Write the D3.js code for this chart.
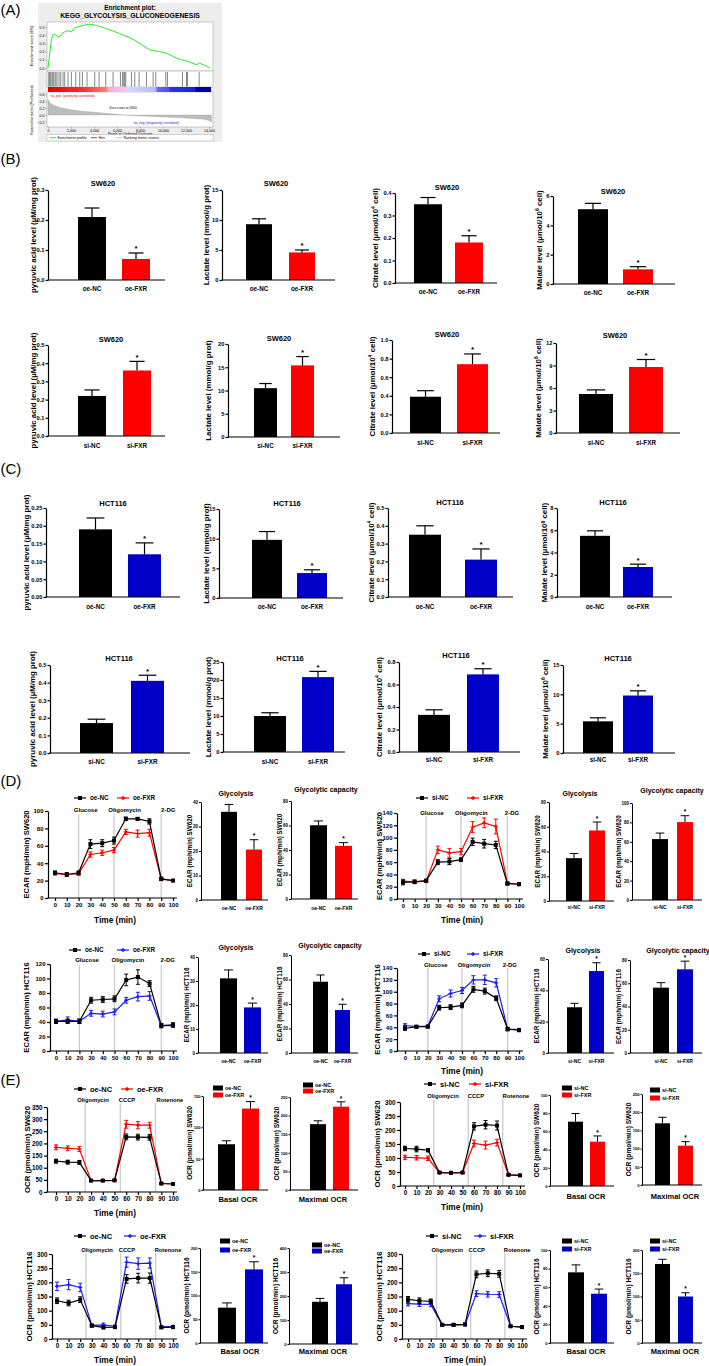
<!DOCTYPE html>
<html><head><meta charset="utf-8">
<script src="https://cdn.jsdelivr.net/npm/d3@7"></script>
<style>
html,body{margin:0;padding:0;background:#fff;}
svg text{font-family:"Liberation Sans",Arial,Helvetica,sans-serif;font-weight:bold;fill:#000;}
</style></head><body>
<script>
// ======================= DATA =======================
const catOe = ["oe-NC", "oe-FXR"];
const catSi = ["si-NC", "si-FXR"];
const significance = ["", "*"];

// Panel B (SW620)
const pyruvicSW620oe = [0.21, 0.07],  pyruvicSW620oeErr = [0.03, 0.02];
const lactateSW620oe = [9.3, 4.6],    lactateSW620oeErr = [0.9, 0.4];
const citrateSW620oe = [0.35, 0.18],  citrateSW620oeErr = [0.03, 0.03];
const malateSW620oe  = [5.1, 1.0],    malateSW620oeErr  = [0.4, 0.18];
const pyruvicSW620si = [0.22, 0.36],  pyruvicSW620siErr = [0.033, 0.05];
const lactateSW620si = [10.5, 15.4],  lactateSW620siErr = [1.0, 1.9];
const citrateSW620si = [0.39, 0.74],  citrateSW620siErr = [0.065, 0.11];
const malateSW620si  = [5.2, 8.8],    malateSW620siErr  = [0.55, 1.0];
// Panel C (HCT116)
const pyruvicHCToe = [0.19, 0.12],  pyruvicHCToeErr = [0.032, 0.032];
const lactateHCToe = [9.8, 4.2],    lactateHCToeErr = [1.4, 0.55];
const citrateHCToe = [0.35, 0.21],  citrateHCToeErr = [0.05, 0.06];
const malateHCToe  = [5.5, 2.7],    malateHCToeErr  = [0.45, 0.25];
const pyruvicHCTsi = [0.17, 0.41],  pyruvicHCTsiErr = [0.022, 0.032];
const lactateHCTsi = [10.0, 20.8],  lactateHCTsiErr = [0.9, 1.6];
const citrateHCTsi = [0.33, 0.69],  citrateHCTsiErr = [0.045, 0.05];
const malateHCTsi  = [5.4, 9.8],    malateHCTsiErr  = [0.6, 0.8];

// Tick label arrays
const ticks0_3 = [0, 0.1, 0.2, 0.3];
const ticks0_4 = [0, 0.1, 0.2, 0.3, 0.4];
const ticks0_5 = [0, 0.1, 0.2, 0.3, 0.4, 0.5];
const ticks0_25 = [0, 0.05, 0.10, 0.15, 0.20, 0.25];
const ticks0_8 = [0, 0.2, 0.4, 0.6, 0.8];
const ticks1_0 = [0, 0.2, 0.4, 0.6, 0.8, 1.0];
const ticks6 = [0, 2, 4, 6];
const ticks8 = [0, 2, 4, 6, 8];
const ticks12 = [0, 3, 6, 9, 12];
const ticks15 = [0, 5, 10, 15];
const ticks20 = [0, 5, 10, 15, 20];
const ticks25 = [0, 5, 10, 15, 20, 25];
const ticks40by10 = [0, 10, 20, 30, 40];
const ticks60by20 = [0, 20, 40, 60];
const ticks80by20 = [0, 20, 40, 60, 80];
const ticks100by20 = [0, 20, 40, 60, 80, 100];
const ticks120by20 = [0, 20, 40, 60, 80, 100, 120];
const ticks140by20 = [0, 20, 40, 60, 80, 100, 120, 140];
const ticks150by50 = [0, 50, 100, 150];
const ticks200by50 = [0, 50, 100, 150, 200];
const ticks250by50 = [0, 50, 100, 150, 200, 250];
const ticks300by50 = [0, 50, 100, 150, 200, 250, 300];
const ticks350by50 = [0, 50, 100, 150, 200, 250, 300, 350];
const ticks400by100 = [0, 100, 200, 300, 400];

// Panel D bars
const glycolysisSW620oe = [36, 20.6],  glycolysisSW620oeErr = [3, 4];
const glycoCapSW620oe   = [60.2, 43.4], glycoCapSW620oeErr  = [3.5, 2.6];
const glycolysisSW620si = [34.6, 57],  glycolysisSW620siErr = [3.8, 6.8];
const glycoCapSW620si   = [62.8, 80.3], glycoCapSW620siErr  = [6.2, 6.6];
const glycolysisHCToe   = [31.1, 19],  glycolysisHCToeErr   = [3.5, 1.8];
const glycoCapHCToe     = [58.2, 35.1], glycoCapHCToeErr    = [5.5, 4.7];
const glycolysisHCTsi   = [29.2, 52.3], glycolysisHCTsiErr  = [2.5, 5.3];
const glycoCapHCTsi     = [56.2, 72],  glycoCapHCTsiErr     = [4.3, 7];

// Panel D/E time courses
const timePoints = [0, 10, 20, 30, 40, 50, 60, 70, 80, 90, 100];
const ecarInjections = [20, 50, 90];
const ecarInjectionLabels = ["Glucose", "Oligomycin", "2-DG"];
const ocrInjections = [25, 55, 85];
const ocrInjectionLabels = ["Oligomycin", "CCCP", "Rotenone"];

const ecarSW620oeNC  = [29, 27, 29, 62, 63, 66, 91, 91, 88, 22, 20];
const ecarSW620oeNCErr  = [2, 2, 2, 5, 4, 4, 2, 1.5, 3, 2, 1];
const ecarSW620oeFXR = [28, 27, 28, 50, 52, 55, 76, 74, 75, 22, 20];
const ecarSW620oeFXRErr = [1.5, 2, 2, 3, 3, 3, 3, 4, 4, 1.5, 1];
const ecarSW620siNC  = [27, 28, 30, 60, 61, 64, 93, 90, 88, 25, 24];
const ecarSW620siNCErr  = [4, 3, 2, 4, 5, 3, 6, 7, 6, 2, 2];
const ecarSW620siFXR = [29, 28, 29, 80, 75, 77, 117, 124, 118, 26, 24];
const ecarSW620siFXRErr = [3, 2, 2, 6, 7, 5, 9, 8, 12, 2, 2];
const ecarHCToeNC  = [41, 41, 41, 70, 71, 72, 98, 102, 93, 35, 36];
const ecarHCToeNCErr  = [3, 3, 3, 4, 4, 4, 8, 10, 4, 3, 3];
const ecarHCToeFXR = [41, 43, 41, 52, 51, 54, 70, 75, 76, 35, 35];
const ecarHCToeFXRErr = [2, 4, 3, 4, 4, 4, 4, 6, 6, 2, 2];
const ecarHCTsiNC  = [38, 41, 41, 73, 74, 77, 104, 101, 89, 37, 35];
const ecarHCTsiNCErr  = [3, 2, 2, 4, 4, 4, 5, 5, 4, 3, 2];
const ecarHCTsiFXR = [43, 41, 42, 88, 97, 102, 120, 120, 115, 37, 36];
const ecarHCTsiFXRErr = [3, 2, 2, 5, 6, 5, 7, 8, 7, 2, 2];

const ocrSW620oeNC  = [127, 123, 122, 47, 47, 48, 227, 226, 225, 35, 33];
const ocrSW620oeNCErr  = [8, 8, 8, 3, 3, 3, 12, 12, 12, 3, 3];
const ocrSW620oeFXR = [184, 180, 177, 47, 47, 48, 279, 275, 275, 35, 33];
const ocrSW620oeFXRErr = [10, 10, 10, 3, 3, 3, 16, 15, 12, 3, 3];
const ocrSW620siNC  = [134, 132, 128, 48, 47, 48, 213, 219, 216, 40, 38];
const ocrSW620siNCErr  = [8, 10, 6, 3, 3, 3, 13, 15, 16, 3, 3];
const ocrSW620siFXR = [102, 101, 99, 48, 47, 48, 152, 146, 155, 40, 38];
const ocrSW620siFXRErr = [8, 8, 8, 3, 3, 3, 12, 14, 12, 3, 3];
const ocrHCToeNC  = [135, 127, 139, 47, 41, 42, 212, 215, 215, 41, 42];
const ocrHCToeNCErr  = [10, 10, 10, 5, 5, 4, 15, 17, 18, 3, 3];
const ocrHCToeFXR = [186, 192, 182, 48, 50, 45, 271, 266, 268, 43, 44];
const ocrHCToeFXRErr = [15, 18, 15, 4, 6, 4, 18, 20, 18, 3, 3];
const ocrHCTsiNC  = [140, 135, 133, 50, 50, 52, 228, 232, 230, 45, 42];
const ocrHCTsiNCErr  = [10, 10, 8, 4, 4, 4, 12, 12, 12, 3, 3];
const ocrHCTsiFXR = [125, 123, 122, 50, 50, 50, 160, 158, 157, 45, 42];
const ocrHCTsiFXRErr = [8, 8, 8, 4, 4, 4, 10, 10, 10, 3, 3];

// Panel E bars
const basalSW620oe   = [73, 130],  basalSW620oeErr   = [5.5, 11];
const maximalSW620oe = [177, 224], maximalSW620oeErr = [9, 13];
const basalSW620si   = [70.7, 48.7], basalSW620siErr = [9, 6.3];
const maximalSW620si = [169.5, 108], maximalSW620siErr = [16.5, 11];
const basalHCToe     = [74.4, 155], basalHCToeErr    = [10, 16];
const maximalHCToe   = [176, 249],  maximalHCToeErr  = [14, 27];
const basalHCTsi     = [76, 53],    basalHCTsiErr    = [8, 5];
const maximalHCTsi   = [170, 100],  maximalHCTsiErr  = [10, 8];

// Panel A (GSEA)
const gseaRank = [0, 150, 290, 435, 580, 960, 1200, 1450, 1740, 2030, 2320, 3040, 3630, 4200, 5080, 6230, 7390, 8840, 9710, 10290, 11160, 11600, 12170, 12900, 13190, 13620, 14110];
const gseaES   = [0, 0.18, 0.34, 0.41, 0.41, 0.375, 0.42, 0.44, 0.455, 0.44, 0.49, 0.52, 0.535, 0.52, 0.48, 0.42, 0.35, 0.22, 0.20, 0.18, 0.12, 0.10, 0.08, 0.04, 0.06, 0.03, 0];
const gseaHits = [60, 148, 235, 350, 437, 525, 670, 785, 960, 1105, 1307, 1452, 1742, 2032, 2409, 2757, 2989, 3394, 4061, 4438, 5018, 5655, 6293, 6467, 6583, 6670, 6757, 7250, 7540, 7916, 8554, 9134, 9366, 10235, 10380, 11685, 12032, 12119, 13133];
const metricRank  = [0, 200, 500, 1000, 2000, 3000, 4000, 5000, 6000, 6560, 8000, 10000, 12000, 13500, 14000, 14200];
const metricValue = [0.45, 0.34, 0.28, 0.22, 0.15, 0.11, 0.08, 0.05, 0.02, 0, -0.03, -0.06, -0.09, -0.12, -0.16, -0.22];
const gseaRankTicks = [0, 2000, 4000, 6000, 8000, 10000, 12000, 14000];
const esTicks = [0, 0.1, 0.2, 0.3, 0.4, 0.5];
const metricTicks = [-0.2, 0, 0.2, 0.4, 0.6];

// ======================= DRAWING =======================
const RED = "#ff0000", BLUE = "#0000c8", LBLUE = "#1c1cf0", BLACK = "#000";
const svg = d3.select("body").append("svg").attr("width", 709).attr("height", 1366).style("display", "block");

function label(g, x, y, s, size, anchor = "middle", rot = 0) {
  const t = g.append("text").attr("font-size", size).attr("text-anchor", anchor).attr("dy", "0.35em");
  if (rot) t.attr("transform", `translate(${x},${y}) rotate(${rot})`);
  else t.attr("x", x).attr("y", y);
  const parts = s.split(/\^(\w)/);
  if (parts.length === 1) { t.text(s); return t; }
  parts.forEach((p, i) => {
    if (i % 2 === 0) { const ts = t.append("tspan").text(p); if (i > 0) ts.attr("dy", "0.3em"); }
    else t.append("tspan").attr("font-size", size * 0.65).attr("dy", "-0.45em").text(p);
  });
  return t;
}

function barChart(c) {
  const g = svg.append("g");
  const y = d3.scaleLinear().domain([0, c.max]).range([c.yBot, c.yTop]);
  const x = d3.scaleBand().domain(c.cats).range([c.b0, c.b0 + 2 * c.bw + c.gap])
    .paddingInner(c.gap / (c.bw + c.gap)).paddingOuter(0);
  const bw = x.bandwidth();
  const aw = c.aw || 1.2;
  g.selectAll("rect.bar").data(c.cats).join("rect").attr("class", "bar")
    .attr("x", d => x(d)).attr("y", (d, i) => y(c.vals[i]))
    .attr("width", bw).attr("height", (d, i) => y(0) - y(c.vals[i]))
    .attr("fill", (d, i) => c.colors[i]);
  c.cats.forEach((d, i) => {
    const cx = x(d) + bw / 2, top = y(c.vals[i] + c.errs[i]);
    g.append("line").attr("x1", cx).attr("x2", cx).attr("y1", y(c.vals[i])).attr("y2", top)
      .attr("stroke", BLACK).attr("stroke-width", aw);
    g.append("line").attr("x1", cx - bw * 0.27).attr("x2", cx + bw * 0.27).attr("y1", top).attr("y2", top)
      .attr("stroke", BLACK).attr("stroke-width", aw);
    if (significance[i]) label(g, cx, top - c.starSize * 0.55, significance[i], c.starSize);
    if (c.catY) label(g, cx, c.catY, d, c.catSize);
  });
  const ya = g.append("g").attr("transform", `translate(${c.ax},0)`)
    .call(d3.axisLeft(y).tickValues(c.ticks).tickFormat(d3.format(c.fmt)).tickSize(c.tl).tickSizeOuter(0).tickPadding(c.tp));
  ya.attr("font-size", c.tickSize);
  ya.selectAll("path,line").attr("stroke-width", aw);
  g.append("line").attr("x1", c.ax - aw / 2).attr("x2", c.axEnd).attr("y1", y(0)).attr("y2", y(0))
    .attr("stroke", BLACK).attr("stroke-width", aw);
  if (c.title) label(g, c.tx, c.ty, c.title, c.titleSize);
  label(g, c.ylx, (c.yTop + c.yBot) / 2, c.ylabel, c.ylSize, "middle", -90);
  if (c.xlabel) label(g, c.xlx, c.xly, c.xlabel, c.xlSize);
  if (c.legend) {
    c.cats.forEach((d, i) => {
      g.append("rect").attr("x", c.legend.x).attr("y", c.legend.y[i] - 2.5).attr("width", 10).attr("height", 5).attr("fill", c.colors[i]);
      label(g, c.legend.x + 12, c.legend.y[i], d, c.legend.size, "start");
    });
  }
}

function lineChart(c) {
  const g = svg.append("g");
  const x = d3.scaleLinear().domain([0, 100]).range([c.x0, c.x1]);
  const y = d3.scaleLinear().domain([0, c.max]).range([c.yBot, c.yTop]);
  c.inj.forEach((t, i) => {
    g.append("line").attr("x1", x(t)).attr("x2", x(t)).attr("y1", c.injTop).attr("y2", c.yBot)
      .attr("stroke", "#cfcfcf").attr("stroke-width", 1.4);
    label(g, x(c.injLabelT[i]), c.injLabelY, c.injLabels[i], c.injSize);
  });
  const ya = g.append("g").attr("transform", `translate(${c.ax},0)`)
    .call(d3.axisLeft(y).tickValues(c.ticks).tickSize(3).tickSizeOuter(0).tickPadding(1.5));
  ya.attr("font-size", c.tickSize);
  ya.selectAll("path,line").attr("stroke-width", 1.2);
  const xa = g.append("g").attr("transform", `translate(0,${c.yBot})`)
    .call(d3.axisBottom(x).tickValues(timePoints).tickSize(3).tickSizeOuter(0).tickPadding(2));
  xa.attr("font-size", c.tickSize);
  xa.select(".domain").remove();
  xa.selectAll("line").attr("stroke-width", 1.2);
  g.append("line").attr("x1", c.ax - 0.6).attr("x2", c.axEnd).attr("y1", c.yBot).attr("y2", c.yBot)
    .attr("stroke", BLACK).attr("stroke-width", 1.2);
  const ln = d3.line().x((d, i) => x(timePoints[i])).y(d => y(d));
  c.series.forEach(s => {
    g.append("path").datum(s.vals).attr("d", ln).attr("fill", "none").attr("stroke", s.color).attr("stroke-width", 1.2);
    s.vals.forEach((v, i) => {
      const px = x(timePoints[i]);
      const e = s.errs[i];
      g.append("line").attr("x1", px).attr("x2", px).attr("y1", y(v - e)).attr("y2", y(v + e)).attr("stroke", s.color).attr("stroke-width", 1);
      [v - e, v + e].forEach(w => g.append("line").attr("x1", px - 2).attr("x2", px + 2).attr("y1", y(w)).attr("y2", y(w)).attr("stroke", s.color).attr("stroke-width", 1));
      if (s.marker === "square") g.append("rect").attr("x", px - 2).attr("y", y(v) - 2).attr("width", 4).attr("height", 4).attr("fill", s.color);
      else g.append("path").attr("transform", `translate(${px},${y(v)})`).attr("d", d3.symbol(d3.symbolCross, 9)()).attr("fill", s.color);
    });
  });
  c.legend.items.forEach((it) => {
    const s = c.series[it.s];
    g.append("line").attr("x1", it.x - 6).attr("x2", it.x + 6).attr("y1", c.legend.y).attr("y2", c.legend.y).attr("stroke", s.color).attr("stroke-width", 1.2);
    if (s.marker === "square") g.append("rect").attr("x", it.x - 2).attr("y", c.legend.y - 2).attr("width", 4).attr("height", 4).attr("fill", s.color);
    else g.append("path").attr("transform", `translate(${it.x},${c.legend.y})`).attr("d", d3.symbol(d3.symbolCross, 9)()).attr("fill", s.color);
    label(g, it.x + 10, c.legend.y, it.label, c.legend.size, "start");
  });
  label(g, c.ylx, (c.yTop + c.yBot) / 2, c.ylabel, c.ylSize, "middle", -90);
  if (c.xlabel) label(g, c.xlx, c.xly, c.xlabel, c.xlSize);
}

// ---------------- Panel A: GSEA ----------------
function drawGSEA() {
  const g = svg.append("g");
  g.append("rect").attr("x", 38).attr("y", 3).attr("width", 184).attr("height", 139).attr("fill", "#ededed");
  label(g, 130, 7.5, "Enrichment plot:", 6.5);
  label(g, 130, 16, "KEGG_GLYCOLYSIS_GLUCONEOGENESIS", 6.8);
  const gx = d3.scaleLinear().domain([0, 14250]).range([48, 212]);
  const esY = d3.scaleLinear().domain([0, 0.5]).range([68, 27]);
  const mY = d3.scaleLinear().domain([0, 0.6]).range([115, 94.3]);
  [[22, 49], [71, 16], [92, 35]].forEach(([yy, hh]) => g.append("rect").attr("x", 47).attr("y", yy).attr("width", 166).attr("height", hh).attr("fill", "#fff").attr("stroke", "#9a9a9a").attr("stroke-width", 0.5));
  const ea = g.append("g").attr("transform", "translate(47,0)").call(d3.axisLeft(esY).tickValues(esTicks).tickFormat(d3.format(".1f")).tickSize(1.5).tickPadding(1));
  ea.attr("font-size", 3.6); ea.select(".domain").remove(); ea.selectAll("line").attr("stroke", "#666").attr("stroke-width", 0.4);
  ea.selectAll("text").style("font-weight", "normal");
  g.append("path").datum(gseaES).attr("d", d3.line().x((d, i) => gx(gseaRank[i])).y(d => esY(d)))
    .attr("fill", "none").attr("stroke", "#22ee22").attr("stroke-width", 1);
  g.selectAll("line.hit").data(gseaHits).join("line").attr("x1", d => gx(d)).attr("x2", d => gx(d))
    .attr("y1", 72).attr("y2", 86.5).attr("stroke", "#222").attr("stroke-width", 0.55);
  const grad = svg.append("defs").append("linearGradient").attr("id", "rb");
  [[0, "#e80000"], [0.22, "#ff3030"], [0.36, "#ff8080"], [0.37, "#ffa8d8"], [0.48, "#ffc8e8"], [0.49, "#d8d8ff"],
   [0.66, "#b8b8ff"], [0.67, "#6868ff"], [0.74, "#5050f0"], [0.75, "#3030e8"], [0.9, "#2020d8"], [0.91, "#0000a8"], [1, "#000098"]]
    .forEach(([o, col]) => grad.append("stop").attr("offset", o).attr("stop-color", col));
  g.append("rect").attr("x", 48).attr("y", 87).attr("width", 163).attr("height", 5).attr("fill", "url(#rb)");
  g.append("path").datum(metricValue).attr("d", d3.area().x((d, i) => gx(metricRank[i])).y0(mY(0)).y1(d => mY(d)))
    .attr("fill", "#bdbdbd").attr("stroke", "#9a9a9a").attr("stroke-width", 0.3);
  const ma = g.append("g").attr("transform", "translate(47,0)").call(d3.axisLeft(mY).tickValues(metricTicks).tickFormat(d3.format(".1f")).tickSize(1.5).tickPadding(1));
  ma.attr("font-size", 3.6); ma.select(".domain").remove(); ma.selectAll("line").attr("stroke", "#666").attr("stroke-width", 0.4);
  ma.selectAll("text").style("font-weight", "normal");
  const xa = g.append("g").attr("transform", "translate(0,127)").call(d3.axisBottom(gx).tickValues(gseaRankTicks).tickFormat(d3.format(",")).tickSize(1.5).tickPadding(1));
  xa.attr("font-size", 3.6); xa.select(".domain").remove(); xa.selectAll("line").attr("stroke", "#666").attr("stroke-width", 0.4);
  xa.selectAll("text").style("font-weight", "normal");
  label(g, 32, 46, "Enrichment score (ES)", 4, "middle", -90).style("font-weight", "normal");
  label(g, 32, 110, "Ranked list metric (PreRanked)", 3.6, "middle", -90).style("font-weight", "normal");
  label(g, 130, 133.5, "Rank in Ordered Dataset", 4).style("font-weight", "normal");
  label(g, 50, 95.5, "'na_pos' (positively correlated)", 3.3, "start").style("font-weight", "normal").style("fill", "#e00000");
  label(g, 123, 108, "Zero cross at 6560", 3.3).style("font-weight", "normal");
  label(g, 133, 123, "'na_neg' (negatively correlated)", 3.3, "start").style("font-weight", "normal").style("fill", "#2020e0");
  g.append("rect").attr("x", 47).attr("y", 134.5).attr("width", 166).attr("height", 6.5).attr("fill", "#fff").attr("stroke", "#9a9a9a").attr("stroke-width", 0.4);
  g.append("line").attr("x1", 50).attr("x2", 56).attr("y1", 137.7).attr("y2", 137.7).attr("stroke", "#22ee22").attr("stroke-width", 1);
  label(g, 57.5, 137.7, "Enrichment profile", 3.6, "start").style("font-weight", "normal");
  g.append("line").attr("x1", 91).attr("x2", 97).attr("y1", 137.7).attr("y2", 137.7).attr("stroke", "#222").attr("stroke-width", 0.7);
  label(g, 98.5, 137.7, "Hits", 3.6, "start").style("font-weight", "normal");
  g.append("line").attr("x1", 116).attr("x2", 122).attr("y1", 137.7).attr("y2", 137.7).attr("stroke", "#aaa").attr("stroke-width", 0.7);
  label(g, 123.5, 137.7, "Ranking metric scores", 3.6, "start").style("font-weight", "normal");
}
drawGSEA();

// ---------------- Panel labels ----------------
[["(A)", 9.5], ["(B)", 158.5], ["(C)", 469], ["(D)", 781], ["(E)", 1080]].forEach(([s, yy]) =>
  label(svg, 0.5, yy, s, 15, "start").style("font-weight", "normal"));

// ---------------- Panels B & C ----------------
const ylPyr = "pyruvic acid level (\u00b5M/mg prot)";
const ylLac = "Lactate level (mmol/g prot)";
const ylCit = "Citrate level (\u00b5mol/10^4 cell)";
const ylMal = "Malate level (\u00b5mol/10^6 cell)";
const colR = [BLACK, RED], colB = [BLACK, BLUE];
const bc = { tickSize: 5.8, catSize: 6.3, titleSize: 7.5, ylSize: 7.9, starSize: 8, tl: 2.5, tp: 1, aw: 1.2 };
const bcCharts = [
  // B row 1
  { ax: 48, axEnd: 165, yTop: 190, yBot: 280, max: 0.3, ticks: ticks0_3, fmt: ".1f", b0: 78, bw: 28, gap: 16, cats: catOe, vals: pyruvicSW620oe, errs: pyruvicSW620oeErr, colors: colR, title: "SW620", tx: 103, ty: 183, ylabel: ylPyr, ylx: 33, catY: 289 },
  { ax: 222, axEnd: 335, yTop: 190, yBot: 280, max: 15, ticks: ticks15, fmt: "d", b0: 246, bw: 26, gap: 17, cats: catOe, vals: lactateSW620oe, errs: lactateSW620oeErr, colors: colR, title: "SW620", tx: 276, ty: 183, ylabel: ylLac, ylx: 206.5, catY: 289 },
  { ax: 395, axEnd: 497, yTop: 193, yBot: 283, max: 0.4, ticks: ticks0_4, fmt: ".1f", b0: 414, bw: 28, gap: 13, cats: catOe, vals: citrateSW620oe, errs: citrateSW620oeErr, colors: colR, title: "SW620", tx: 447, ty: 187, ylabel: ylCit, ylx: 375, catY: 292 },
  { ax: 553, axEnd: 675, yTop: 196, yBot: 284, max: 6, ticks: ticks6, fmt: "d", b0: 578, bw: 30, gap: 15, cats: catOe, vals: malateSW620oe, errs: malateSW620oeErr, colors: colR, title: "SW620", tx: 613, ty: 191, ylabel: ylMal, ylx: 539, catY: 293 },
  // B row 2
  { ax: 48, axEnd: 165, yTop: 345, yBot: 436, max: 0.5, ticks: ticks0_5, fmt: ".1f", b0: 78, bw: 28, gap: 17, cats: catSi, vals: pyruvicSW620si, errs: pyruvicSW620siErr, colors: colR, title: "SW620", tx: 111, ty: 339, ylabel: ylPyr, ylx: 33, catY: 446 },
  { ax: 228, axEnd: 340, yTop: 344, yBot: 437, max: 20, ticks: ticks20, fmt: "d", b0: 254, bw: 23, gap: 14, cats: catSi, vals: lactateSW620si, errs: lactateSW620siErr, colors: colR, title: "SW620", tx: 279, ty: 338, ylabel: ylLac, ylx: 208.5, catY: 446 },
  { ax: 392, axEnd: 500, yTop: 340, yBot: 433, max: 1.0, ticks: ticks1_0, fmt: ".1f", b0: 410, bw: 31, gap: 16, cats: catSi, vals: citrateSW620si, errs: citrateSW620siErr, colors: colR, title: "SW620", tx: 447, ty: 334, ylabel: ylCit, ylx: 372, catY: 443 },
  { ax: 556, axEnd: 680, yTop: 343, yBot: 433, max: 12, ticks: ticks12, fmt: "d", b0: 579, bw: 34, gap: 16, cats: catSi, vals: malateSW620si, errs: malateSW620siErr, colors: colR, title: "SW620", tx: 615, ty: 335, ylabel: ylMal, ylx: 538, catY: 443 },
  // C row 1
  { ax: 46, axEnd: 180, yTop: 508, yBot: 597, max: 0.25, ticks: ticks0_25, fmt: ".2f", b0: 79, bw: 33, gap: 16, cats: catOe, vals: pyruvicHCToe, errs: pyruvicHCToeErr, colors: colB, title: "HCT116", tx: 113, ty: 503, ylabel: ylPyr, ylx: 26, catY: 607 },
  { ax: 219, axEnd: 343, yTop: 509, yBot: 598, max: 15, ticks: ticks15, fmt: "d", b0: 252, bw: 30, gap: 15, cats: catOe, vals: lactateHCToe, errs: lactateHCToeErr, colors: colB, title: "HCT116", tx: 287, ty: 503, ylabel: ylLac, ylx: 206, catY: 607 },
  { ax: 388, axEnd: 513, yTop: 508, yBot: 597, max: 0.5, ticks: ticks0_5, fmt: ".1f", b0: 409, bw: 32, gap: 24, cats: catOe, vals: citrateHCToe, errs: citrateHCToeErr, colors: colB, title: "HCT116", tx: 450, ty: 502, ylabel: ylCit, ylx: 371, catY: 607 },
  { ax: 557, axEnd: 672, yTop: 508, yBot: 597, max: 8, ticks: ticks8, fmt: "d", b0: 580, bw: 30, gap: 13, cats: catOe, vals: malateHCToe, errs: malateHCToeErr, colors: colB, title: "HCT116", tx: 613, ty: 502, ylabel: ylMal, ylx: 544.5, catY: 607 },
  // C row 2
  { ax: 50, axEnd: 190, yTop: 665, yBot: 753, max: 0.5, ticks: ticks0_5, fmt: ".1f", b0: 80, bw: 33, gap: 18, cats: catSi, vals: pyruvicHCTsi, errs: pyruvicHCTsiErr, colors: colB, title: "HCT116", tx: 119, ty: 658, ylabel: ylPyr, ylx: 32, catY: 762 },
  { ax: 223, axEnd: 345, yTop: 662, yBot: 752, max: 25, ticks: ticks25, fmt: "d", b0: 254, bw: 32, gap: 16, cats: catSi, vals: lactateHCTsi, errs: lactateHCTsiErr, colors: colB, title: "HCT116", tx: 290, ty: 658, ylabel: ylLac, ylx: 208, catY: 762 },
  { ax: 399, axEnd: 520, yTop: 662, yBot: 752, max: 0.8, ticks: ticks0_8, fmt: ".1f", b0: 418, bw: 32, gap: 17, cats: catSi, vals: citrateHCTsi, errs: citrateHCTsiErr, colors: colB, title: "HCT116", tx: 456, ty: 655, ylabel: ylCit, ylx: 379, catY: 760 },
  { ax: 563, axEnd: 675, yTop: 665, yBot: 753, max: 15, ticks: ticks15, fmt: "d", b0: 583, bw: 30, gap: 10, cats: catSi, vals: malateHCTsi, errs: malateHCTsiErr, colors: colB, title: "HCT116", tx: 618, ty: 658, ylabel: ylMal, ylx: 545, catY: 760 }
];
bcCharts.forEach(c => barChart(Object.assign({}, bc, c)));

// ---------------- Panel D ----------------
const dbar = { tickSize: 4.5, catSize: 5, titleSize: 7, ylSize: 6.3, starSize: 6.5, tl: 2, tp: 1, aw: 1 };
const ylE1 = "ECAR (mph/min) SW620", ylE2 = "ECAR (mph/min) HCT116";
const dBars = [
  { ax: 201, axEnd: 268, yTop: 802, yBot: 900, max: 40, ticks: ticks40by10, fmt: "d", b0: 221, bw: 16, gap: 9, cats: catOe, vals: glycolysisSW620oe, errs: glycolysisSW620oeErr, colors: colR, title: "Glycolysis", tx: 236, ty: 794, ylabel: ylE1, ylx: 189.5, catY: 908 },
  { ax: 291, axEnd: 358, yTop: 801, yBot: 899, max: 80, ticks: ticks80by20, fmt: "d", b0: 310, bw: 17, gap: 8, cats: catOe, vals: glycoCapSW620oe, errs: glycoCapSW620oeErr, colors: colR, title: "Glycolytic capacity", tx: 326, ty: 790, ylabel: ylE1, ylx: 279.5, catY: 908 },
  { ax: 549, axEnd: 614, yTop: 802, yBot: 901, max: 80, ticks: ticks80by20, fmt: "d", b0: 566, bw: 16, gap: 7, cats: catSi, vals: glycolysisSW620si, errs: glycolysisSW620siErr, colors: colR, title: "Glycolysis", tx: 580, ty: 794, ylabel: ylE1, ylx: 537.5, catY: 907 },
  { ax: 632, axEnd: 702, yTop: 803, yBot: 900, max: 100, ticks: ticks100by20, fmt: "d", b0: 652, bw: 16, gap: 9, cats: catSi, vals: glycoCapSW620si, errs: glycoCapSW620siErr, colors: colR, title: "Glycolytic capacity", tx: 672, ty: 791, ylabel: ylE1, ylx: 618.5, catY: 907 },
  { ax: 198, axEnd: 268, yTop: 957, yBot: 1053, max: 40, ticks: ticks40by10, fmt: "d", b0: 220, bw: 17, gap: 7, cats: catOe, vals: glycolysisHCToe, errs: glycolysisHCToeErr, colors: colB, title: "Glycolysis", tx: 236, ty: 948, ylabel: ylE2, ylx: 186.5, catY: 1061 },
  { ax: 291, axEnd: 358, yTop: 955, yBot: 1053, max: 80, ticks: ticks80by20, fmt: "d", b0: 313, bw: 15, gap: 7, cats: catOe, vals: glycoCapHCToe, errs: glycoCapHCToeErr, colors: colB, title: "Glycolytic capacity", tx: 330, ty: 946, ylabel: ylE2, ylx: 279.5, catY: 1061 },
  { ax: 548, axEnd: 614, yTop: 959, yBot: 1053, max: 60, ticks: ticks60by20, fmt: "d", b0: 567, bw: 15, gap: 7, cats: catSi, vals: glycolysisHCTsi, errs: glycolysisHCTsiErr, colors: colB, title: "Glycolysis", tx: 583, ty: 951, ylabel: ylE2, ylx: 536.5, catY: 1061 },
  { ax: 630, axEnd: 702, yTop: 960, yBot: 1053, max: 80, ticks: ticks80by20, fmt: "d", b0: 653, bw: 16, gap: 8, cats: catSi, vals: glycoCapHCTsi, errs: glycoCapHCTsiErr, colors: colB, title: "Glycolytic capacity", tx: 678, ty: 951, ylabel: ylE2, ylx: 618.5, catY: 1061 }
];
dBars.forEach(c => barChart(Object.assign({}, dbar, c)));

const dl = { tickSize: 6, injSize: 6, ylSize: 7.6, xlSize: 8.3 };
const dLines = [
  { ax: 48, axEnd: 177, x0: 55, x1: 173, yTop: 811, yBot: 898, max: 100, ticks: ticks100by20, inj: ecarInjections, injLabels: ecarInjectionLabels, injLabelT: [26, 59, 96], injLabelY: 810, injTop: 814,
    series: [{ vals: ecarSW620oeFXR, errs: ecarSW620oeFXRErr, color: RED, marker: "cross" }, { vals: ecarSW620oeNC, errs: ecarSW620oeNCErr, color: BLACK, marker: "square" }],
    legend: { y: 798, size: 6.3, items: [{ x: 80, s: 1, label: catOe[0] }, { x: 123, s: 0, label: catOe[1] }] },
    ylabel: "ECAR (mpH/min) SW620", ylx: 26.5, xlabel: "Time (min)", xlx: 115, xly: 920 },
  { ax: 397, axEnd: 523, x0: 403, x1: 519, yTop: 813, yBot: 899, max: 140, ticks: ticks140by20, inj: ecarInjections, injLabels: ecarInjectionLabels, injLabelT: [25, 59, 94], injLabelY: 813, injTop: 816,
    series: [{ vals: ecarSW620siFXR, errs: ecarSW620siFXRErr, color: RED, marker: "cross" }, { vals: ecarSW620siNC, errs: ecarSW620siNCErr, color: BLACK, marker: "square" }],
    legend: { y: 798, size: 6.3, items: [{ x: 422, s: 1, label: catSi[0] }, { x: 473, s: 0, label: catSi[1] }] },
    ylabel: "ECAR (mpH/min) SW620", ylx: 379.5, xlabel: "Time (min)", xlx: 462, xly: 920 },
  { ax: 50, axEnd: 177, x0: 56, x1: 173, yTop: 964, yBot: 1051, max: 120, ticks: ticks120by20, inj: ecarInjections, injLabels: ecarInjectionLabels, injLabelT: [26.5, 61.5, 95.5], injLabelY: 960, injTop: 965,
    series: [{ vals: ecarHCToeFXR, errs: ecarHCToeFXRErr, color: LBLUE, marker: "cross" }, { vals: ecarHCToeNC, errs: ecarHCToeNCErr, color: BLACK, marker: "square" }],
    legend: { y: 950, size: 6.3, items: [{ x: 75, s: 1, label: catOe[0] }, { x: 123, s: 0, label: catOe[1] }] },
    ylabel: "ECAR (mph/min) HCT116", ylx: 26.5 },
  { ax: 397, axEnd: 523, x0: 405, x1: 519, yTop: 968, yBot: 1051, max: 140, ticks: ticks140by20, inj: ecarInjections, injLabels: ecarInjectionLabels, injLabelT: [27, 60.5, 92], injLabelY: 965, injTop: 968,
    series: [{ vals: ecarHCTsiFXR, errs: ecarHCTsiFXRErr, color: LBLUE, marker: "cross" }, { vals: ecarHCTsiNC, errs: ecarHCTsiNCErr, color: BLACK, marker: "square" }],
    legend: { y: 954, size: 6.3, items: [{ x: 424, s: 1, label: catSi[0] }, { x: 473, s: 0, label: catSi[1] }] },
    ylabel: "ECAR (mph/min) HCT116", ylx: 377, xlabel: "Time (min)", xlx: 462, xly: 1071 }
];
dLines.forEach(c => lineChart(Object.assign({}, dl, c)));

// ---------------- Panel E ----------------
const el = { tickSize: 6.3, injSize: 5.8, ylSize: 7.8, xlSize: 8.3 };
const eLines = [
  { ax: 47, axEnd: 177, x0: 56, x1: 173, yTop: 1107, yBot: 1192, max: 350, ticks: ticks350by50, inj: ocrInjections, injLabels: ocrInjectionLabels, injLabelT: [31.6, 60.7, 97.4], injLabelY: 1100, injTop: 1103,
    series: [{ vals: ocrSW620oeFXR, errs: ocrSW620oeFXRErr, color: RED, marker: "cross" }, { vals: ocrSW620oeNC, errs: ocrSW620oeNCErr, color: BLACK, marker: "square" }],
    legend: { y: 1089, size: 7.5, items: [{ x: 80, s: 1, label: catOe[0] }, { x: 127, s: 0, label: catOe[1] }] },
    ylabel: "OCR (pmol/min) SW620", ylx: 27.5, xlabel: "Time (min)", xlx: 115, xly: 1213 },
  { ax: 400, axEnd: 525, x0: 405, x1: 520, yTop: 1102, yBot: 1186, max: 300, ticks: ticks300by50, inj: ocrInjections, injLabels: ocrInjectionLabels, injLabelT: [33, 61.7, 96.5], injLabelY: 1096, injTop: 1099,
    series: [{ vals: ocrSW620siFXR, errs: ocrSW620siFXRErr, color: RED, marker: "cross" }, { vals: ocrSW620siNC, errs: ocrSW620siNCErr, color: BLACK, marker: "square" }],
    legend: { y: 1084, size: 7.5, items: [{ x: 430, s: 1, label: catSi[0] }, { x: 475, s: 0, label: catSi[1] }] },
    ylabel: "OCR (pmol/min) SW620", ylx: 377.5, xlabel: "Time (min)", xlx: 462, xly: 1207 },
  { ax: 52, axEnd: 177, x0: 57, x1: 173, yTop: 1254, yBot: 1339, max: 300, ticks: ticks300by50, inj: ocrInjections, injLabels: ocrInjectionLabels, injLabelT: [34.5, 60.3, 95.7], injLabelY: 1250, injTop: 1253,
    series: [{ vals: ocrHCToeFXR, errs: ocrHCToeFXRErr, color: LBLUE, marker: "cross" }, { vals: ocrHCToeNC, errs: ocrHCToeNCErr, color: BLACK, marker: "square" }],
    legend: { y: 1236, size: 7.5, items: [{ x: 80, s: 1, label: catOe[0] }, { x: 130, s: 0, label: catOe[1] }] },
    ylabel: "OCR (pmol/min) HCT116", ylx: 29.5, xlabel: "Time (min)", xlx: 115, xly: 1360 },
  { ax: 402, axEnd: 527, x0: 408, x1: 522, yTop: 1254, yBot: 1339, max: 300, ticks: ticks300by50, inj: ocrInjections, injLabels: ocrInjectionLabels, injLabelT: [34.5, 60.3, 95.7], injLabelY: 1250, injTop: 1253,
    series: [{ vals: ocrHCTsiFXR, errs: ocrHCTsiFXRErr, color: LBLUE, marker: "cross" }, { vals: ocrHCTsiNC, errs: ocrHCTsiNCErr, color: BLACK, marker: "square" }],
    legend: { y: 1236, size: 7.5, items: [{ x: 432, s: 1, label: catSi[0] }, { x: 480, s: 0, label: catSi[1] }] },
    ylabel: "OCR (pmol/min) HCT116", ylx: 379.5, xlabel: "Time (min)", xlx: 465, xly: 1360 }
];
eLines.forEach(c => lineChart(Object.assign({}, el, c)));

const eb = { tickSize: 4.2, titleSize: 7, ylSize: 6.6, starSize: 6.5, tl: 1.5, tp: 0.8, aw: 1, xlSize: 7.5 };
const ylO1 = "OCR (pmol/min)  SW620", ylO2 = "OCR (pmol/min)  HCT116";
const eBars = [
  { ax: 203, axEnd: 268, yTop: 1096, yBot: 1190, max: 150, ticks: ticks150by50, fmt: "d", b0: 218, bw: 17, gap: 7, cats: catOe, vals: basalSW620oe, errs: basalSW620oeErr, colors: colR, ylabel: ylO1, ylx: 189.5, xlabel: "Basal OCR", xlx: 238, xly: 1199, legend: { x: 213, y: [1088, 1095], size: 5.5 } },
  { ax: 290, axEnd: 358, yTop: 1097, yBot: 1190, max: 250, ticks: ticks250by50, fmt: "d", b0: 310, bw: 16, gap: 7, cats: catOe, vals: maximalSW620oe, errs: maximalSW620oeErr, colors: colR, ylabel: ylO1, ylx: 276.5, xlabel: "Maximal OCR", xlx: 323, xly: 1199, legend: { x: 303, y: [1085, 1091], size: 5.5 } },
  { ax: 550, axEnd: 614, yTop: 1095, yBot: 1186, max: 100, ticks: ticks100by20, fmt: "d", b0: 568, bw: 15, gap: 7, cats: catSi, vals: basalSW620si, errs: basalSW620siErr, colors: colR, ylabel: ylO1, ylx: 536.5, xlabel: "Basal OCR", xlx: 586, xly: 1196, legend: { x: 562, y: [1088, 1095], size: 5.5 } },
  { ax: 642, axEnd: 702, yTop: 1094, yBot: 1185, max: 250, ticks: ticks250by50, fmt: "d", b0: 655, bw: 15, gap: 8, cats: catSi, vals: maximalSW620si, errs: maximalSW620siErr, colors: colR, ylabel: ylO1, ylx: 628.5, xlabel: "Maximal OCR", xlx: 675, xly: 1196, legend: { x: 650, y: [1090, 1098], size: 5.5 } },
  { ax: 200, axEnd: 268, yTop: 1248, yBot: 1343, max: 200, ticks: ticks200by50, fmt: "d", b0: 218, bw: 18, gap: 9, cats: catOe, vals: basalHCToe, errs: basalHCToeErr, colors: colB, ylabel: ylO2, ylx: 186.5, xlabel: "Basal OCR", xlx: 240, xly: 1351, legend: { x: 220, y: [1241, 1250], size: 5.5 } },
  { ax: 289, axEnd: 358, yTop: 1248, yBot: 1344, max: 400, ticks: ticks400by100, fmt: "d", b0: 312, bw: 16, gap: 8, cats: catOe, vals: maximalHCToe, errs: maximalHCToeErr, colors: colB, ylabel: ylO2, ylx: 275.5, xlabel: "Maximal OCR", xlx: 323, xly: 1351, legend: { x: 312, y: [1245, 1251], size: 5.5 } },
  { ax: 550, axEnd: 614, yTop: 1250, yBot: 1343, max: 100, ticks: ticks100by20, fmt: "d", b0: 568, bw: 16, gap: 7, cats: catSi, vals: basalHCTsi, errs: basalHCTsiErr, colors: colB, ylabel: ylO2, ylx: 536.5, xlabel: "Basal OCR", xlx: 586, xly: 1351, legend: { x: 562, y: [1241, 1249], size: 5.5 } },
  { ax: 642, axEnd: 702, yTop: 1250, yBot: 1343, max: 200, ticks: ticks200by50, fmt: "d", b0: 655, bw: 15, gap: 8, cats: catSi, vals: maximalHCTsi, errs: maximalHCTsiErr, colors: colB, ylabel: ylO2, ylx: 628.5, xlabel: "Maximal OCR", xlx: 675, xly: 1351, legend: { x: 650, y: [1241, 1249], size: 5.5 } }
];
eBars.forEach(c => barChart(Object.assign({}, eb, c)));
</script>
</body></html>
